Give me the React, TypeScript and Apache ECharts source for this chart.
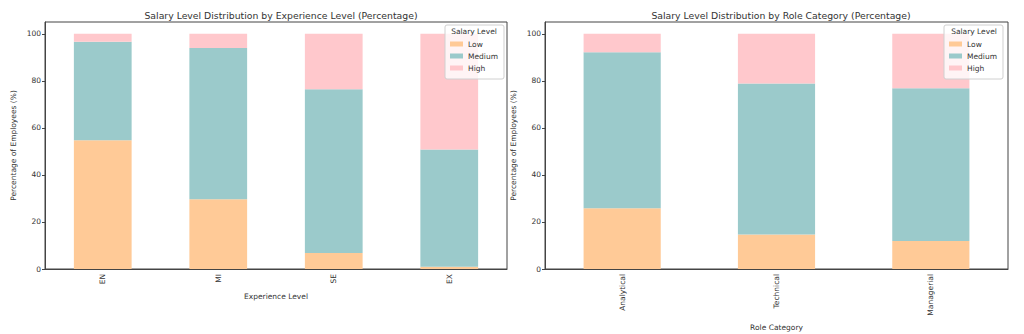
import React, { useEffect, useRef } from "react";
import * as echarts from "echarts";

const expCategories = ["EN", "MI", "SE", "EX"];
const expLow = [54.7, 29.7, 6.8, 1.0];
const expMedium = [41.9, 64.2, 69.6, 49.8];
const expHigh = [3.4, 6.1, 23.6, 49.2];

const roleCategories = ["Analytical", "Technical", "Managerial"];
const roleLow = [25.8, 14.7, 11.9];
const roleMedium = [66.3, 64.2, 64.9];
const roleHigh = [7.9, 21.1, 23.2];

const levelNames = ["Low", "Medium", "High"];
const yTicks = [0, 20, 40, 60, 80, 100];

const COLORS = ["#ffca97", "#9bcacb", "#ffc8cc"];
const FONT = "DejaVu Sans";
const TXT = "#333";

export default function App() {
  const ref = useRef<HTMLDivElement>(null);
  useEffect(() => {
    document.body.style.margin = "0";
    const chart = echarts.init(ref.current!, null, { renderer: "svg" });

    const makeX = (gridIndex: number, data: string[], name: string, gap: number) => ({
      type: "category",
      gridIndex,
      data,
      name,
      nameLocation: "middle",
      nameGap: gap,
      nameTextStyle: { fontFamily: FONT, fontSize: 7.5, color: TXT },
      axisLine: { lineStyle: { color: "#444", width: 1 } },
      axisTick: { alignWithLabel: true, length: 3, lineStyle: { color: "#444" } },
      axisLabel: { rotate: 90, fontFamily: FONT, fontSize: 7.5, color: TXT, margin: 5 },
    });
    const makeY = (gridIndex: number) => ({
      type: "value",
      gridIndex,
      min: 0,
      max: 105,
      interval: 20,
      name: "Percentage of Employees (%)",
      nameLocation: "middle",
      nameGap: 28,
      nameTextStyle: { fontFamily: FONT, fontSize: 7.5, color: TXT },
      splitLine: { show: false },
      axisLine: { show: true, lineStyle: { color: "#444", width: 1 } },
      axisTick: { show: true, length: 3, customValues: yTicks, lineStyle: { color: "#444" } },
      axisLabel: { customValues: yTicks, fontFamily: FONT, fontSize: 7.5, color: TXT, margin: 4 },
    });

    const series: any[] = [];
    const expData = [expLow, expMedium, expHigh];
    const roleData = [roleLow, roleMedium, roleHigh];
    levelNames.forEach((n, i) => {
      series.push({
        type: "bar",
        name: n,
        stack: "exp",
        xAxisIndex: 0,
        yAxisIndex: 0,
        barWidth: "50%",
        data: expData[i],
        itemStyle: { color: COLORS[i] },
      });
    });
    levelNames.forEach((n, i) => {
      series.push({
        type: "bar",
        name: n,
        stack: "role",
        xAxisIndex: 1,
        yAxisIndex: 1,
        barWidth: "50%",
        data: roleData[i],
        itemStyle: { color: COLORS[i] },
      });
    });

    const legendCommon = {
      orient: "vertical",
      top: 25,
      data: levelNames,
      itemWidth: 13,
      itemHeight: 5,
      itemGap: 4,
      padding: [15, 6, 7, 5],
      borderColor: "#d0d0d0",
      borderWidth: 1,
      borderRadius: 2,
      backgroundColor: "rgba(255,255,255,0.8)",
      textStyle: { fontFamily: FONT, fontSize: 7.5, color: TXT },
      selectedMode: false,
      icon: "rect",
      z: 5,
    };

    chart.setOption({
      animation: false,
      color: COLORS,
      title: [
        {
          text: "Salary Level Distribution by Experience Level (Percentage)",
          left: 276,
          top: 6,
          textAlign: "center",
          textStyle: { fontFamily: FONT, fontSize: 9.3, fontWeight: "normal", color: TXT },
        },
        {
          text: "Salary Level Distribution by Role Category (Percentage)",
          left: 776,
          top: 6,
          textAlign: "center",
          textStyle: { fontFamily: FONT, fontSize: 9.3, fontWeight: "normal", color: TXT },
        },
      ],
      legend: [
        { ...legendCommon, right: 1024 - 504 },
        { ...legendCommon, right: 21 },
      ],
      graphic: [
        {
          type: "text",
          x: 474,
          y: 27,
          z: 100,
          style: { text: "Salary Level", fontFamily: FONT, fontSize: 7.5, fill: TXT, textAlign: "center" },
        },
        {
          type: "text",
          x: 974,
          y: 27,
          z: 100,
          style: { text: "Salary Level", fontFamily: FONT, fontSize: 7.5, fill: TXT, textAlign: "center" },
        },
      ],
      grid: [
        { left: 45, right: 1024 - 507, top: 22, bottom: 65, show: true, borderColor: "#444", borderWidth: 1, backgroundColor: "transparent", outerBoundsMode: "none", containLabel: false },
        { left: 545, right: 16, top: 22, bottom: 65, show: true, borderColor: "#444", borderWidth: 1, backgroundColor: "transparent", outerBoundsMode: "none", containLabel: false },
      ],
      xAxis: [
        makeX(0, expCategories, "Experience Level", 20),
        makeX(1, roleCategories, "Role Category", 50),
      ],
      yAxis: [makeY(0), makeY(1)],
      series,
    });
    return () => chart.dispose();
  }, []);
  return <div ref={ref} style={{ width: 1024, height: 334 }} />;
}
